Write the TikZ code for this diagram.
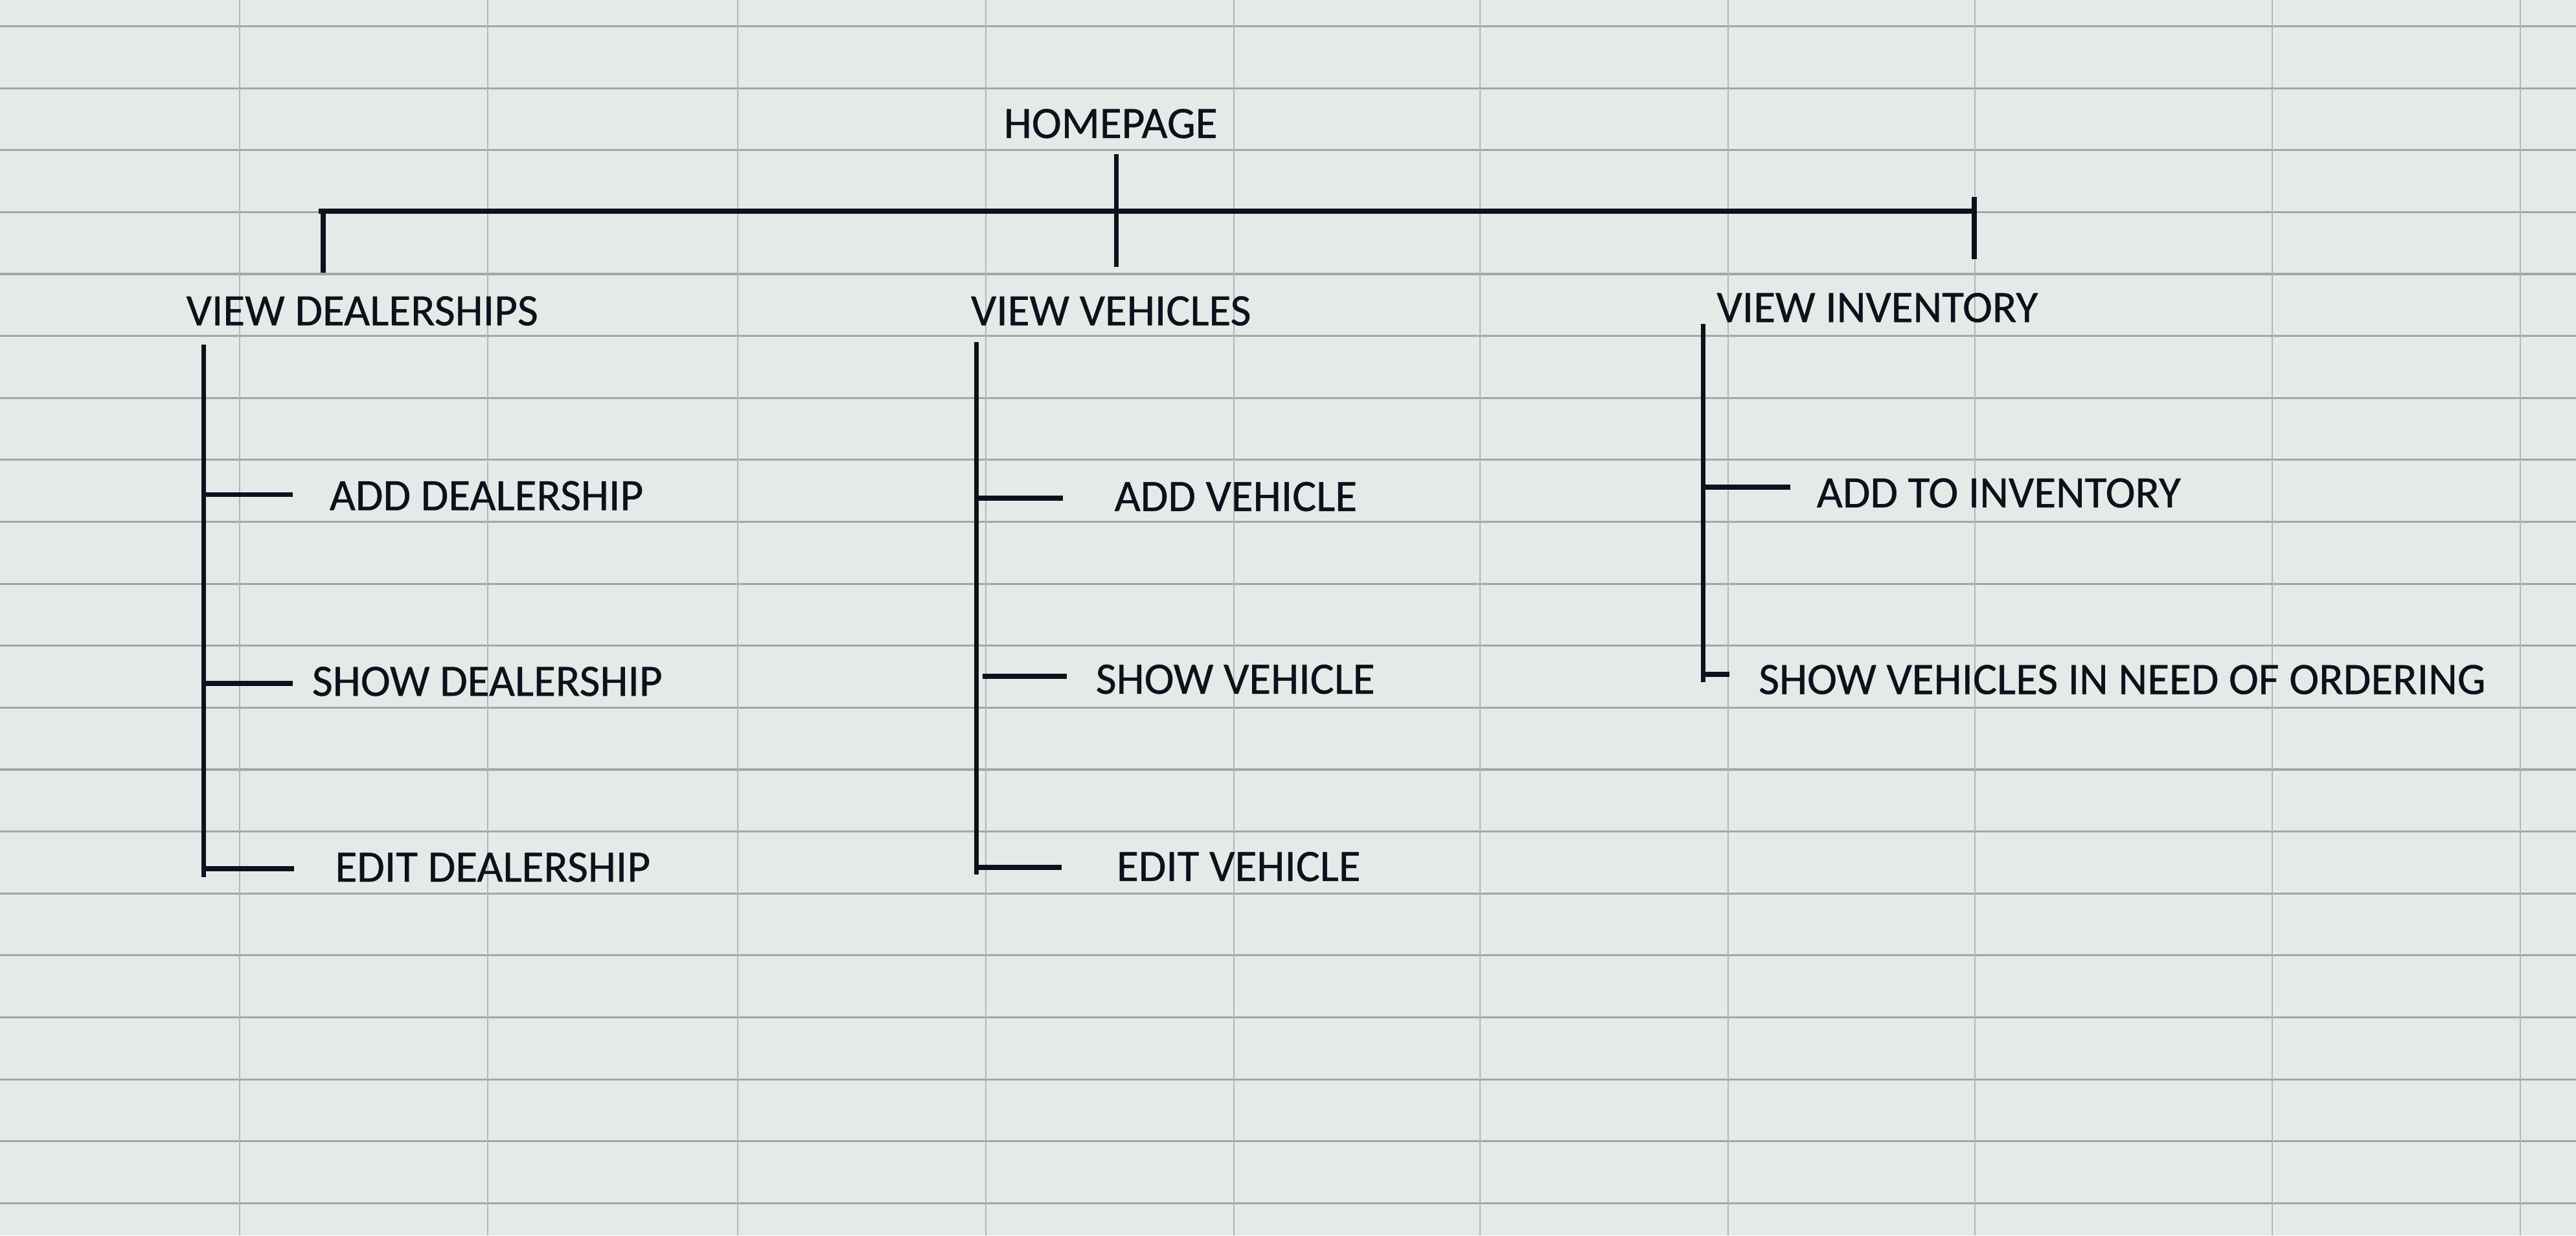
\documentclass[tikz,border=0pt]{standalone}
\usepackage{fontspec}
\setmainfont{Carlito}
\newfontfamily\sheetfont{Carlito}[BoldFont=Carlito, BoldFeatures={FakeBold=0.6}]
\definecolor{sheet}{RGB}{229,234,232}
\definecolor{gridh}{RGB}{163,166,165}
\definecolor{gridv}{RGB}{176,184,183}
\definecolor{ink}{RGB}{16,16,28}
\begin{document}
\begin{tikzpicture}[x=0.025364cm, y=-0.025364cm,
    page/.style={anchor=base west, inner sep=0pt, outer sep=0pt, text=ink, font=\sheetfont\bfseries\fontsize{19.7}{24}\selectfont},
    link/.style={draw=ink, line width=2.2pt}]
    % Spreadsheet background
    \fill[sheet] (0,0) rectangle (1568,752);
    \useasboundingbox (0,0) rectangle (1568,752);
    \foreach \y in {0,...,19} \draw[gridh, line width=0.9pt] (0,16+37.7*\y) -- (1568,16+37.7*\y);
    \foreach \x in {146,297,449,600,751,901,1052,1202,1383,1534} \draw[gridv, line width=0.6pt] (\x,0) -- (\x,752);

    % Homepage
    \node[page] (home) at (611,84) {HOMEPAGE};

    % Sections
    \node[page] (dealers) at (113.4,198) {VIEW DEALERSHIPS};
    \node[page] (vehicles) at (591,198) {VIEW VEHICLES};
    \node[page] (inventory) at (1045,196) {VIEW INVENTORY};

    % Dealership pages
    \node[page] (addDealer) at (200.6,310.5) {ADD DEALERSHIP};
    \node[page] (showDealer) at (190,423.5) {SHOW DEALERSHIP};
    \node[page] (editDealer) at (204,536.6) {EDIT DEALERSHIP};

    % Vehicle pages
    \node[page] (addVehicle) at (678.4,311) {ADD VEHICLE};
    \node[page] (showVehicle) at (667,422.2) {SHOW VEHICLE};
    \node[page] (editVehicle) at (679.7,536.2) {EDIT VEHICLE};

    % Inventory pages
    \node[page] (addInventory) at (1105.8,308.8) {ADD TO INVENTORY};
    \node[page] (orderList) at (1070.5,422.4) {SHOW VEHICLES IN NEED OF ORDERING};

    % Top bar
    \coordinate (homeTop) at (679.5,94);
    \coordinate (homeBot) at (679.5,162.5);
    \coordinate (barL) at (194,128.5);
    \coordinate (barR) at (1201.6,128.5);
    \coordinate (tickL) at (196.7,166);
    \coordinate (tickRtop) at (1201.6,120);
    \coordinate (tickRbot) at (1201.6,157.7);
    \draw[link] (homeTop) -- (homeBot);
    \draw[link] (barL) -- (barR);
    \draw[link] (tickL |- barL) -- (tickL);
    \draw[link] (tickRtop) -- (tickRbot);

    % Dealership tree
    \coordinate (dTop) at (124,209.7);
    \coordinate (dBot) at (124,533.8);
    \coordinate (dAdd) at (178.2,301);
    \coordinate (dShow) at (178.2,416);
    \coordinate (dEdit) at (179,528.8);
    \draw[link] (dTop) -- (dBot);
    \draw[link] (dTop |- dAdd) -- (dAdd);
    \draw[link] (dTop |- dShow) -- (dShow);
    \draw[link] (dTop |- dEdit) -- (dEdit);

    % Vehicle tree
    \coordinate (vTop) at (594.3,208.3);
    \coordinate (vBot) at (594.3,532.4);
    \coordinate (vAdd) at (647,303.3);
    \coordinate (vShowL) at (598,411.6);
    \coordinate (vShow) at (649.5,411.6);
    \coordinate (vEdit) at (646.3,527.8);
    \draw[link] (vTop) -- (vBot);
    \draw[link] (vTop |- vAdd) -- (vAdd);
    \draw[link] (vShowL) -- (vShow);
    \draw[link] (vTop |- vEdit) -- (vEdit);

    % Inventory tree
    \coordinate (iTop) at (1036.7,197);
    \coordinate (iBot) at (1036.7,415);
    \coordinate (iAdd) at (1089.8,296.4);
    \coordinate (iOrder) at (1052.7,410.5);
    \draw[link] (iTop) -- (iBot);
    \draw[link] (iTop |- iAdd) -- (iAdd);
    \draw[link] (iTop |- iOrder) -- (iOrder);
\end{tikzpicture}
\end{document}
